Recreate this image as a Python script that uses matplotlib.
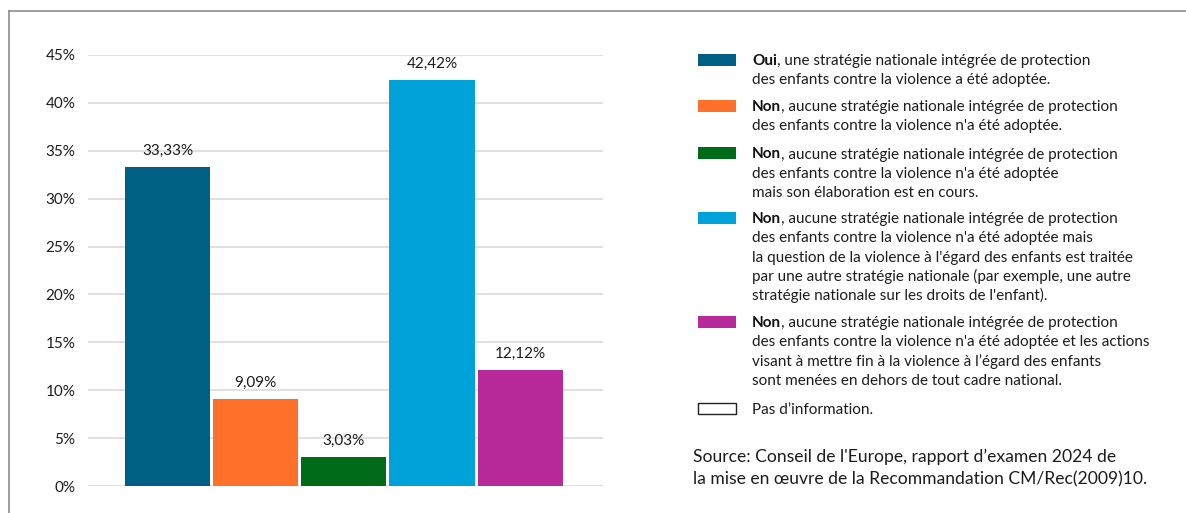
import matplotlib
matplotlib.use("Agg")
import matplotlib.pyplot as plt
from matplotlib.patches import Rectangle
from matplotlib.lines import Line2D

# ---- data ----
values = [33.33, 9.09, 3.03, 42.42, 12.12]
colors = ["#005F85", "#FF712B", "#006B18", "#00A3D9", "#B8299A"]
yticks = [0, 5, 10, 15, 20, 25, 30, 35, 40, 45]
legend_bold = ["Oui", "Non", "Non", "Non", "Non"]
legend_lines = [
    [", une stratégie nationale intégrée de protection",
     "des enfants contre la violence a été adoptée."],
    [", aucune stratégie nationale intégrée de protection",
     "des enfants contre la violence n'a été adoptée."],
    [", aucune stratégie nationale intégrée de protection",
     "des enfants contre la violence n'a été adoptée",
     "mais son élaboration est en cours."],
    [", aucune stratégie nationale intégrée de protection",
     "des enfants contre la violence n'a été adoptée mais",
     "la question de la violence à l'égard des enfants est traitée",
     "par une autre stratégie nationale (par exemple, une autre",
     "stratégie nationale sur les droits de l'enfant)."],
    [", aucune stratégie nationale intégrée de protection",
     "des enfants contre la violence n'a été adoptée et les actions",
     "visant à mettre fin à la violence à l\u2019égard des enfants",
     "sont menées en dehors de tout cadre national."],
]
no_info_label = "Pas d\u2019information."
source_lines = ["Source: Conseil de l'Europe, rapport d\u2019examen 2024 de",
                "la mise en \u0153uvre de la Recommandation CM/Rec(2009)10."]

FONT = "Lato"
TXT = "#1c1c1c"
W, H = 1186, 513

fig = plt.figure(figsize=(W / 100, H / 100), dpi=100)
fig.patch.set_facecolor("white")


def fx(x):
    return x / W


def fy(y):
    return 1 - y / H


# ---- axes ----
ax = fig.add_axes([fx(88), fy(486), fx(603) - fx(88), fy(55) - fy(486)])
x = list(range(len(values)))
ax.bar(x, values, width=0.966, color=colors, zorder=3)
ax.set_xlim(-0.903, 4.94)
ax.set_ylim(0, 45)
ax.set_yticks(yticks)
ax.set_yticklabels([f"{t}%" for t in yticks], fontsize=11, family=FONT, color=TXT)
ax.set_xticks([])
ax.tick_params(axis="y", length=0, pad=9)
ax.yaxis.grid(True, color="#dddddd", lw=1.3, zorder=0)
ax.set_axisbelow(True)
for s in ax.spines.values():
    s.set_visible(False)
for xi, v in zip(x, values):
    ax.annotate(f"{v:.2f}".replace(".", ",") + "%", xy=(xi, v), xytext=(0, 6.5),
                textcoords="offset points", ha="center", va="bottom",
                fontsize=11, family=FONT, color=TXT, annotation_clip=False)

# ---- frame lines ----
fig.add_artist(Line2D([fx(9), 1], [fy(11), fy(11)], color="#8c8c8c", lw=1.2))
fig.add_artist(Line2D([fx(9), fx(9)], [fy(11), 0], color="#8c8c8c", lw=1.2))

# ---- legend ----
LS = 19.3
starts = [60.5, 106.5, 154, 218.5, 322.5]
tx = 752
lfs = 11.0
for bold, lines, c, y0 in zip(legend_bold, legend_lines, colors, starts):
    fig.add_artist(Rectangle((fx(698), fy(y0 + 5)), fx(736) - fx(698), 12 / H,
                             facecolor=c, edgecolor="none", transform=fig.transFigure))
    bt = fig.text(fx(tx), fy(y0 + 4.5), bold, fontsize=lfs, family=FONT,
                  weight="bold", color="#111111", va="baseline", ha="left")
    plt.annotate(lines[0], xy=(1, 0), xycoords=bt, xytext=(0, 0),
                 textcoords="offset points", va="bottom", ha="left",
                 fontsize=lfs, family=FONT, color=TXT, annotation_clip=False)
    for i, ln in enumerate(lines[1:], start=1):
        fig.text(fx(tx), fy(y0 + 4.5 + i * LS), ln, fontsize=lfs, family=FONT,
                 color=TXT, va="baseline", ha="left")

yni = 409
fig.add_artist(Rectangle((fx(698), fy(yni + 5)), fx(736) - fx(698), 11 / H,
                         facecolor="white", edgecolor="#222222", lw=1.0,
                         transform=fig.transFigure))
fig.text(fx(tx), fy(yni + 4.5), no_info_label, fontsize=lfs, family=FONT,
         color=TXT, va="baseline", ha="left")

for i, ln in enumerate(source_lines):
    fig.text(fx(693), fy(462 + i * 22.5), ln, fontsize=12.6, family=FONT,
             color=TXT, va="baseline", ha="left")

fig.savefig("out.png", dpi=100, facecolor="white")
